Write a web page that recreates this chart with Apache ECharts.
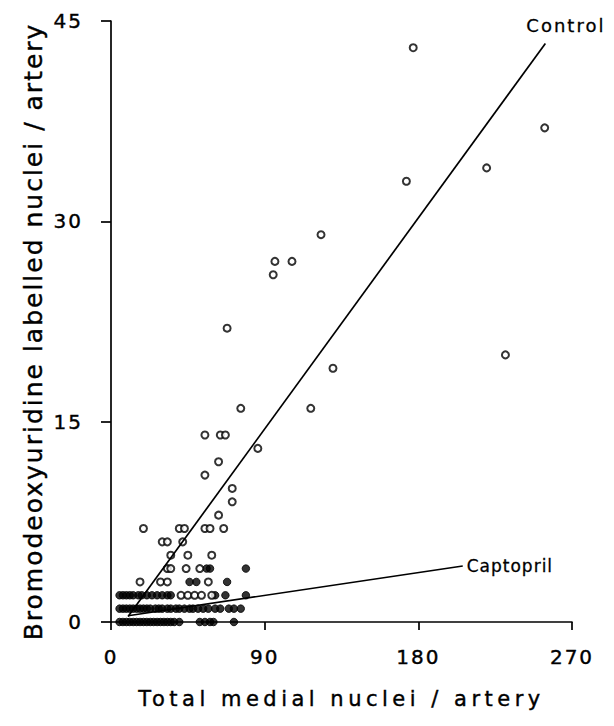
<!DOCTYPE html>
<html>
<head>
<meta charset="utf-8">
<script src="https://cdn.jsdelivr.net/npm/echarts@6/dist/echarts.min.js"></script>
<style>
  html, body { margin: 0; padding: 0; background: #fff; }
  #chart { width: 614px; height: 726px; }
</style>
</head>
<body>
<div id="chart"></div>
<script>
// Control arteries (open circles): total medial nuclei vs labelled nuclei
var controlX = [177, 254, 220, 173, 123, 96, 106, 95, 68, 231, 130, 76, 117, 55, 64, 67, 86, 63, 55, 71, 71, 63,
                19, 40, 43, 55, 58, 66, 30, 33, 42, 35, 45, 59, 33, 35, 44, 52, 17, 29, 33, 57,
                41, 45, 49, 53, 59];
var controlY = [43, 37, 34, 33, 29, 27, 27, 26, 22, 20, 19, 16, 16, 14, 14, 14, 13, 12, 11, 10, 9, 8,
                7, 7, 7, 7, 7, 7, 6, 6, 6, 5, 5, 5, 4, 4, 4, 4, 3, 3, 3, 3,
                2, 2, 2, 2, 2];

// Captopril-treated arteries (filled circles)
var captoprilX = [5, 7, 9, 11, 13, 15, 17, 19, 21, 23, 25, 27, 29, 31, 33, 35, 37, 40, 52, 55, 58, 60, 72,
                  5, 7, 9, 11, 13, 15, 17, 19, 21, 23, 26, 28, 30, 33, 35, 38, 40, 43, 46, 48, 51, 54, 57, 61, 64, 69, 72, 76,
                  5, 7, 9, 11, 13, 16, 18, 21, 24, 27, 30, 33, 35, 61, 67, 79,
                  46, 50, 68,
                  56, 58, 79];
var captoprilY = [0, 0, 0, 0, 0, 0, 0, 0, 0, 0, 0, 0, 0, 0, 0, 0, 0, 0, 0, 0, 0, 0, 0,
                  1, 1, 1, 1, 1, 1, 1, 1, 1, 1, 1, 1, 1, 1, 1, 1, 1, 1, 1, 1, 1, 1, 1, 1, 1, 1, 1, 1,
                  2, 2, 2, 2, 2, 2, 2, 2, 2, 2, 2, 2, 2, 2, 2, 2,
                  3, 3, 3,
                  4, 4, 4];

// Fitted regression lines: [start x, end x] and intercept / slope
var controlFit = { x: [10, 254.4], intercept: -1.35, slope: 0.1756 };
var captoprilFit = { x: [10, 206], intercept: 0.28, slope: 0.0190 };

var xTicks = [0, 90, 180, 270];
var yTicks = [0, 15, 30, 45];

var xTitle = 'Total medial nuclei / artery';
var yTitle = 'Bromodeoxyuridine labelled nuclei / artery';

function zip(xs, ys) {
  return xs.map(function (x, i) { return [x, ys[i]]; });
}
function fitLine(f) {
  return f.x.map(function (x) { return [x, f.intercept + f.slope * x]; });
}

var font = 'DejaVu Sans';
var chart = echarts.init(document.getElementById('chart'), null, { renderer: 'svg' });

chart.setOption({
  animation: false,
  backgroundColor: '#ffffff',
  grid: { left: 111, right: 42, top: 21, bottom: 104 },
  xAxis: {
    type: 'value',
    min: xTicks[0],
    max: xTicks[xTicks.length - 1],
    interval: xTicks[1] - xTicks[0],
    name: xTitle,
    nameLocation: 'middle',
    nameGap: 66,
    nameTextStyle: { fontFamily: font, fontSize: 21, color: '#000', textBorderColor: '#000', textBorderWidth: 0.4 },
    axisLine: { show: true, onZero: false, lineStyle: { color: '#000', width: 1.7 } },
    axisTick: { show: true, inside: false, length: 8, lineStyle: { color: '#000', width: 1.7 } },
    axisLabel: { fontFamily: font, fontSize: 20, color: '#000', margin: 25, showMinLabel: true, showMaxLabel: true,
                 textBorderColor: '#000', textBorderWidth: 0.4 },
    splitLine: { show: false }
  },
  yAxis: {
    type: 'value',
    min: yTicks[0],
    max: yTicks[yTicks.length - 1],
    interval: yTicks[1] - yTicks[0],
    name: yTitle,
    nameLocation: 'middle',
    nameGap: 56,
    nameRotate: 90,
    nameTextStyle: { fontFamily: font, fontSize: 25, color: '#000', textBorderColor: '#000', textBorderWidth: 0.4,
                     padding: [0, 20, 0, 0] },
    axisLine: { show: true, onZero: false, lineStyle: { color: '#000', width: 1.7 } },
    axisTick: { show: true, inside: false, length: 10, lineStyle: { color: '#000', width: 1.7 } },
    axisLabel: { fontFamily: font, fontSize: 20, color: '#000', margin: 28, showMinLabel: true, showMaxLabel: true,
                 textBorderColor: '#000', textBorderWidth: 0.4 },
    splitLine: { show: false }
  },
  series: [
    {
      name: 'Captopril',
      type: 'scatter',
      symbol: 'circle',
      symbolSize: 7.5,
      itemStyle: { color: '#000', borderColor: '#000', borderWidth: 1 },
      data: zip(captoprilX, captoprilY),
      z: 3
    },
    {
      name: 'Control',
      type: 'scatter',
      symbol: 'circle',
      symbolSize: 7,
      itemStyle: { color: '#fff', borderColor: '#000', borderWidth: 2 },
      data: zip(controlX, controlY),
      z: 4
    },
    {
      name: 'Control fit',
      type: 'line',
      symbol: 'none',
      lineStyle: { color: '#000', width: 1.7 },
      data: fitLine(controlFit),
      endLabel: {
        show: true,
        formatter: 'Control',
        fontFamily: font,
        fontSize: 18,
        color: '#000',
        textBorderColor: '#000',
        textBorderWidth: 0.3,
        align: 'left',
        offset: [-27, -18]
      },
      z: 5
    },
    {
      name: 'Captopril fit',
      type: 'line',
      symbol: 'none',
      lineStyle: { color: '#000', width: 1.7 },
      data: fitLine(captoprilFit),
      endLabel: {
        show: true,
        formatter: 'Captopril',
        fontFamily: font,
        fontSize: 17,
        color: '#000',
        textBorderColor: '#000',
        textBorderWidth: 0.3,
        distance: 4
      },
      z: 5
    }
  ]
});

// Widen the typewriter-like lettering of the titles and labels
var spacing = {};
spacing[xTitle] = 4.5;
spacing[yTitle] = 2.0;
spacing['Control'] = 2;
spacing['Captopril'] = 1;
function spaceLetters() {
  var texts = document.querySelectorAll('#chart svg text');
  texts.forEach(function (t) {
    var s = t.textContent;
    var ls = spacing.hasOwnProperty(s) ? spacing[s] : (/^\d+$/.test(s) ? 2 : 0);
    if (ls) t.setAttribute('letter-spacing', ls + 'px');
  });
}
spaceLetters();
chart.on('finished', spaceLetters);
</script>
</body>
</html>
